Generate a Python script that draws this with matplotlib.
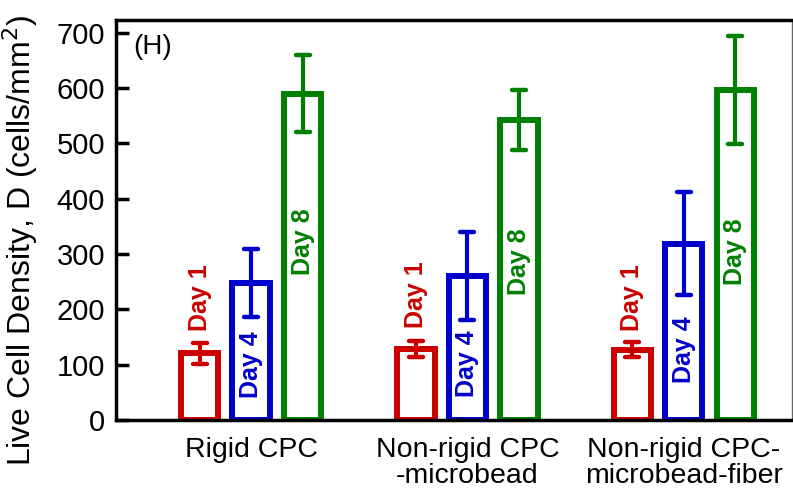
import numpy as np
import matplotlib.pyplot as plt
from matplotlib.markers import MarkerStyle

# data
groups = ['Rigid CPC', 'Non-rigid CPC\n-microbead', 'Non-rigid CPC-\nmicrobead-fiber']
days = ['Day 1', 'Day 4', 'Day 8']
colors = ['#cc0000', '#0000cc', '#008000']
day1 = [121, 128, 127]
day4 = [248, 260, 319]
day8 = [590, 542, 596]
err1 = [19, 15, 14]
err4 = [61, 80, 93]
err8 = [70, 54, 98]
# where each rotated label starts (bottom of text, data units)
lab1 = [160, 166, 160]
lab4 = [40, 42, 67]
lab8 = [262, 226, 244]

plt.rcParams['font.family'] = ['Liberation Sans', 'DejaVu Sans']

fig = plt.figure(figsize=(7.93, 4.99), dpi=100)
ax = fig.add_axes([0.1463, 0.1583, 0.8524, 0.8016])

x = np.arange(1, len(groups) + 1)
off = 0.238
w = 0.172
vals = [day1, day4, day8]
errs = [err1, err4, err8]
labs = [lab1, lab4, lab8]

for i in range(3):
    xi = x + (i - 1) * off
    ax.bar(xi, vals[i], width=w, facecolor='white', edgecolor=colors[i],
           linewidth=4.3, zorder=2)
    eb = ax.errorbar(xi, vals[i], yerr=errs[i], fmt='none', ecolor=colors[i],
                     elinewidth=3.0, capsize=5, capthick=3.2, zorder=3)
    for cl in eb[1]:
        cl.set_marker(MarkerStyle('_', capstyle='round'))
    for j in range(3):
        ax.text(xi[j], labs[i][j], days[i], rotation=90, ha='center', va='bottom',
                color=colors[i], fontsize=18, fontweight='bold', zorder=4)

ax.text(0.025, 0.965, '(H)', transform=ax.transAxes, fontsize=20,
        ha='left', va='top')

ax.set_xlim(0.376, 3.5)
ax.set_ylim(0, 723)
ax.set_yticks(np.arange(0, 701, 100))
ax.set_xticks(x)
ax.set_xticklabels(groups, fontsize=20.5, linespacing=1.0)
ax.tick_params(axis='y', direction='in', length=9, width=2.5, labelsize=21, pad=8)
ax.tick_params(axis='x', length=0, pad=12)
ax.set_ylabel('Live Cell Density, D (cells/mm$^2$)', fontsize=23)
ax.yaxis.set_label_coords(-0.112, 0.45)

for s in ['left', 'bottom', 'top']:
    ax.spines[s].set_linewidth(2.5)
    ax.spines[s].set_color('black')
ax.spines['right'].set_linewidth(1.0)
ax.spines['right'].set_color('#666666')

fig.savefig('out.png', dpi=100)
